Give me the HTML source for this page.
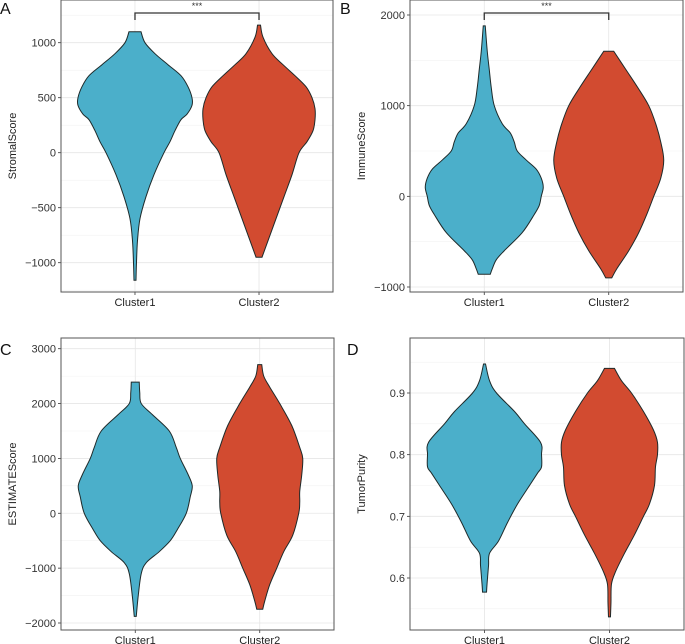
<!DOCTYPE html>
<html><head><meta charset="utf-8"><style>
body{margin:0;background:#fff;}
svg{display:block;font-family:"Liberation Sans",sans-serif;}
</style></head><body>
<svg id="c" width="685" height="644" viewBox="0 0 685 644"></svg>
<script>
// Panel A data: [value, density]
const aCluster1=[[1100,6],[1000,10],[900,20],[800,33],[700,46],[600,53],[500,57],[430,57],[350,52],[300,46],[200,40],[100,35],[0,29],[-200,19],[-400,11],[-600,5],[-800,2.5],[-1000,1.5],[-1160,1]];
const aCluster2=[[1160,1.5],[1050,4],[900,13],[800,24],[700,36],[600,47],[500,53],[400,56],[300,56],[200,54],[100,48],[0,40],[-200,33],[-400,25],[-600,17],[-800,9],[-900,5],[-950,3]];
const bCluster1=[[1880,1],[1600,3],[1400,5],[1200,7],[1000,10],[800,18],[700,26],[600,30],[500,33],[400,42],[300,52],[200,57],[100,59],[0,57],[-100,55],[-200,50],[-400,38],[-600,20],[-700,12],[-800,8],[-860,6]];
const bCluster2=[[1600,5],[1400,17],[1200,29],[1000,40],[800,47],[600,52],[400,55],[200,52],[0,45],[-200,38],[-400,30],[-600,20],[-800,8],[-900,3]];
const cCluster1=[[2390,4],[2200,4.5],[2000,6],[1800,17],[1500,34],[1200,41],[1000,45],[700,53],[500,57],[300,55],[0,51],[-300,42],[-500,35],[-700,24],[-900,11],[-1100,6],[-1500,3],[-1880,1]];
const cCluster2=[[2710,2],[2500,4],[2300,10],[2000,20],[1600,32],[1200,40],[1000,43],[700,42],[400,40],[200,40],[0,39],[-400,33],[-700,24],[-1000,17],[-1300,10],[-1600,5],[-1750,3]];
const dCluster1=[[0.947,1],[0.92,5],[0.9,12],[0.87,30],[0.85,40],[0.82,56],[0.8,57],[0.78,57],[0.77,53],[0.75,45],[0.72,33],[0.69,23],[0.66,14],[0.64,5],[0.62,4],[0.59,2.5],[0.577,2]];
const dCluster2=[[0.94,5],[0.92,12],[0.9,22],[0.87,34],[0.84,44],[0.82,48],[0.8,48],[0.78,46],[0.75,45],[0.72,40],[0.7,34],[0.67,25],[0.64,15],[0.61,6],[0.59,2],[0.56,1.5],[0.537,1]];
const categories=["Cluster1","Cluster2"];
const aTicks=[1000,500,0,-500,-1000];
const bTicks=[2000,1000,0,-1000];
const cTicks=[3000,2000,1000,0,-1000,-2000];
const dTicks=[0.9,0.8,0.7,0.6];

const NS="http://www.w3.org/2000/svg";
const svg=document.getElementById('c');
function el(t,a,p){const e=document.createElementNS(NS,t);for(const k in a)e.setAttribute(k,a[k]);(p||svg).appendChild(e);return e;}
function smooth(pts){let d="M"+pts[0][0]+","+pts[0][1];for(let i=0;i<pts.length-1;i++){const p0=pts[i-1]||pts[i],p1=pts[i],p2=pts[i+1],p3=pts[i+2]||p2;const c1=[p1[0]+(p2[0]-p0[0])/6,p1[1]+(p2[1]-p0[1])/6],c2=[p2[0]-(p3[0]-p1[0])/6,p2[1]-(p3[1]-p1[1])/6];d+=" C"+c1[0]+","+c1[1]+" "+c2[0]+","+c2[1]+" "+p2[0]+","+p2[1];}return d;}

function panel(o){
  const g=el('g',{});
  
  
  const y=v=>o.y0+(v-o.t0)*(o.y1-o.y0)/(o.t1-o.t0);
  const xs=[o.x0+(o.x1-o.x0)*0.272,o.x0+(o.x1-o.x0)*0.728];
  for(let i=0;i<o.ticks.length+1;i++){const step=o.ticks[0]-o.ticks[1];const v=o.ticks[0]+step/2-i*step;const yy=y(v);if(yy>o.top&&yy<o.bot)el('line',{x1:o.x0,x2:o.x1,y1:yy,y2:yy,stroke:'#f2f2f2','stroke-width':0.6},g);}
  o.ticks.forEach(t=>{const yy=y(t);const l=el('line',{x1:o.x0,x2:o.x1,y1:yy,y2:yy,stroke:'#e6e6e6','stroke-width':0.8},g);
    el('line',{x1:o.x0-3,x2:o.x0,y1:yy,y2:yy,stroke:'#333','stroke-width':0.8},g);
    const tx=el('text',{x:o.x0-5,y:yy+4,'text-anchor':'end','font-size':11,fill:'#333'},g);tx.textContent=String(t).replace('-','\u2212');});
  xs.forEach(x=>el('line',{x1:x,x2:x,y1:o.top,y2:o.bot,stroke:'#e6e6e6','stroke-width':0.8},g));
  const cols=['#4bafca','#d24b30'];
  o.series.forEach((s,i)=>{const cx=xs[i];const R=s.map(p=>[cx+p[1],y(p[0])]);const L=s.map(p=>[cx-p[1],y(p[0])]).reverse();
    const sl=smooth(L);
    let d=smooth(R)+" L"+L[0][0]+","+L[0][1]+sl.slice(sl.indexOf(' '))+" Z";
    const p=el('path',{d:d,fill:cols[i],stroke:'#1e2a2a','stroke-width':1},g);
    el('line',{x1:cx,x2:cx,y1:o.bot,y2:o.bot+3,stroke:'#333','stroke-width':0.8},g);
    const t=el('text',{x:cx,y:o.bot+14,'text-anchor':'middle','font-size':11,fill:'#222'},g);t.textContent=categories[i];});
  const fr=el('rect',{x:o.x0,y:o.top,width:o.x1-o.x0,height:o.bot-o.top,fill:'none',stroke:'#555','stroke-width':1},g);
  const at=el('text',{transform:`translate(${o.x0-45},${(o.top+o.bot)/2}) rotate(-90)`,'text-anchor':'middle','font-size':11,fill:'#222'},g);at.textContent=o.title;
  const lt=el('text',{x:o.lx,y:o.ly,'font-size':16,fill:'#111'},g);lt.textContent=o.letter;
  if(o.sig){const b=el('path',{d:`M${xs[0]},20 V13 H${xs[1]} V20`,fill:'none',stroke:'#333','stroke-width':1.3},g);
    const st=el('text',{x:(xs[0]+xs[1])/2,y:9,'text-anchor':'middle','font-size':9,fill:'#333'},g);st.textContent='***';}
}
panel({letter:'A',lx:0,ly:14,x0:61,x1:333,top:0,bot:292,t0:1000,t1:-1000,y0:42.7,y1:262.7,ticks:aTicks,series:[aCluster1,aCluster2],title:'StromalScore',sig:true});
panel({letter:'B',lx:340,ly:14,x0:410,x1:683,top:0,bot:292,t0:2000,t1:-1000,y0:15,y1:287,ticks:bTicks,series:[bCluster1,bCluster2],title:'ImmuneScore',sig:true});
panel({letter:'C',lx:0,ly:355,x0:61,x1:334,top:338,bot:630,t0:3000,t1:-2000,y0:348.7,y1:623,ticks:cTicks,series:[cCluster1,cCluster2],title:'ESTIMATEScore'});
panel({letter:'D',lx:347,ly:355,x0:410,x1:684,top:338,bot:630,t0:0.9,t1:0.6,y0:393,y1:578,ticks:dTicks,series:[dCluster1,dCluster2],title:'TumorPurity'});
</script>
</body></html>
